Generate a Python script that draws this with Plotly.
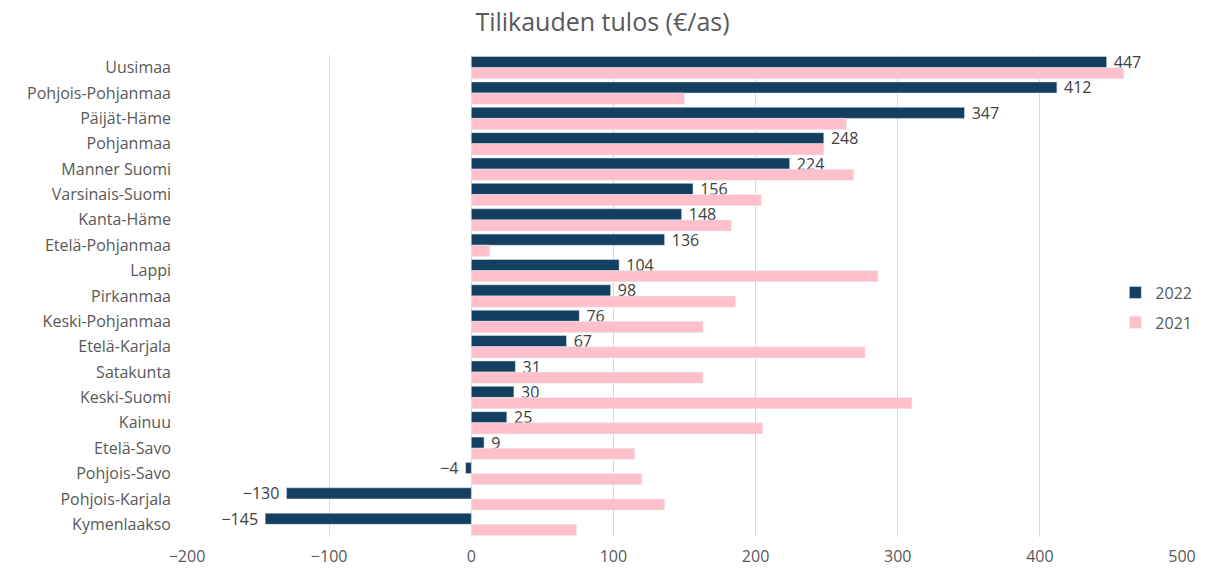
import plotly.graph_objects as go

regions = ["Uusimaa", "Pohjois-Pohjanmaa", "Päijät-Häme", "Pohjanmaa", "Manner Suomi",
           "Varsinais-Suomi", "Kanta-Häme", "Etelä-Pohjanmaa", "Lappi", "Pirkanmaa",
           "Keski-Pohjanmaa", "Etelä-Karjala", "Satakunta", "Keski-Suomi", "Kainuu",
           "Etelä-Savo", "Pohjois-Savo", "Pohjois-Karjala", "Kymenlaakso"]
values_2022 = [447, 412, 347, 248, 224, 156, 148, 136, 104, 98, 76, 67, 31, 30, 25, 9, -4, -130, -145]
values_2021 = [459, 150, 264, 248, 269, 204, 183, 13, 286, 186, 163, 277, 163, 310, 205, 115, 120, 136, 74]
x_ticks = [-200, -100, 0, 100, 200, 300, 400, 500]

FONT = "Open Sans"
GREY = "#595959"


def label(v):
    return f" {v}" if v >= 0 else f"\u2212{abs(v)} "


fig = go.Figure()
fig.add_trace(go.Bar(
    y=regions, x=values_2022, name="2022", orientation="h", legendgroup="a",
    marker=dict(color="#143f61"),
    text=[label(v) for v in values_2022], textposition="outside", constraintext="none",
    textfont=dict(family=FONT, size=16, color="#404040"),
    cliponaxis=False,
))
fig.add_trace(go.Bar(
    y=regions, x=values_2021, name="2021", orientation="h", legendgroup="b",
    marker=dict(color="#ffc0cb"),
))

fig.update_layout(
    width=1205, height=569,
    paper_bgcolor="white", plot_bgcolor="white",
    barmode="group", bargap=0.12, bargroupgap=0,
    margin=dict(l=187, r=23, t=55, b=32, autoexpand=False),
    title=dict(text="Tilikauden tulos (€/as)", x=0.5, xanchor="center", y=0.9613, yanchor="middle",
               font=dict(family=FONT, size=25, color=GREY)),
    font=dict(family=FONT, size=16, color=GREY),
    showlegend=True,
    legend=dict(x=0.933, y=0.476, xanchor="left", yanchor="middle",
                font=dict(family=FONT, size=16, color=GREY),
                bgcolor="rgba(0,0,0,0)", itemwidth=30, tracegroupgap=6),
    xaxis=dict(range=[-200, 500], tickvals=x_ticks, showgrid=True, gridcolor="#d9d9d9",
               gridwidth=1, zeroline=False, showline=False, ticks="", automargin=False,
               ticklabelstandoff=8,
               tickfont=dict(family=FONT, size=16, color=GREY)),
    yaxis=dict(autorange="reversed", showgrid=False, zeroline=False, showline=False,
               ticks="", ticklabelstandoff=15, automargin=False,
               tickfont=dict(family=FONT, size=16, color=GREY)),
)

# remove the browser's default 8px page margin so the figure sits at the window's corner
fig.write_html("out.html", config={"displayModeBar": False},
               post_script="document.body.style.margin='0';")
